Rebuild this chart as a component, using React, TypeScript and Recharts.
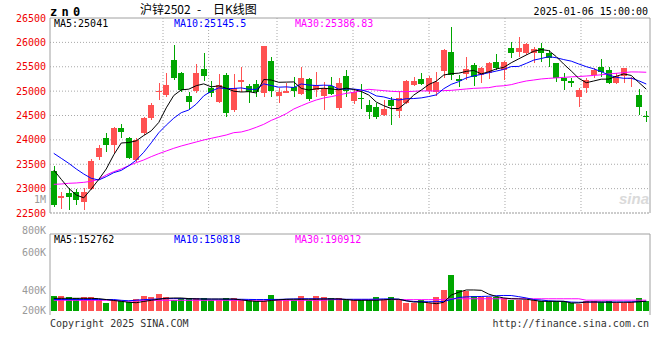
import React from 'react';
import { ComposedChart, Bar, Line, XAxis, YAxis, ReferenceLine, CartesianGrid } from 'recharts';

const MONO = '"DejaVu Sans Mono", "Liberation Mono", monospace';
const CJK = '"Noto Sans CJK SC", sans-serif';
const RED = '#ff5252';
const GREEN = '#00a600';
const GRID = '#a8a8a8';
const BORDER = '#a0a0a0';
const AXIS_RED = '#f00000';
const DATE_BLUE = '#0080cc';
const VOL_GREY = '#999999';

// ---------- data ----------
const dates = [
  '09-05','09-06','09-09','09-10','09-11','09-12','09-13','09-18','09-19','09-20',
  '09-23','09-24','09-25','09-26','09-27','09-30','10-08','10-09','10-10','10-11',
  '10-14','10-15','10-16','10-17','10-18','10-21','10-22','10-23','10-24','10-25',
  '10-28','10-29','10-30','10-31','11-01','11-04','11-05','11-06','11-07','11-08',
  '11-11','11-12','11-13','11-14','11-15','11-18','11-19','11-20','11-21','11-22',
  '11-25','11-26','11-27','11-28','11-29','12-02','12-03','12-04','12-05','12-06',
  '12-09','12-10','12-11','12-12','12-13','12-16','12-17','12-18','12-19','12-20',
  '12-23','12-24','12-25','12-26','12-27','12-30','12-31','01-02','01-03','01-06',
];

const open = [
  23369,22801,22904,22938,22733,23006,23642,24032,23895,24237,
  24032,23588,24134,24442,24975,24921,25639,25379,24900,24989,
  25447,25057,24784,25331,24613,25194,25105,25146,24969,25618,
  24900,24969,25092,24941,25249,25023,24900,25105,24661,25310,
  24798,24860,24716,24668,24510,24818,24579,24750,25126,25242,
  24989,24989,25420,25809,25242,25351,25536,25331,25365,25604,
  25433,25878,25789,25789,25775,25878,25775,25570,25262,25208,
  24887,25057,25331,25488,25433,25160,25297,25256,24921,24483,
];
const high = [
  23471,22938,23006,22986,23006,23601,23895,24134,24258,24326,
  24066,24032,24476,24750,25174,25379,25946,25390,24989,25557,
  25775,25208,25351,25365,25351,25488,25146,25228,25930,25707,
  25057,25174,25297,25488,25262,25399,25194,25297,25262,25433,
  25037,25140,24818,24764,24818,24887,25010,25228,25297,25365,
  25310,25399,25857,26322,25331,25693,25584,25502,25604,25761,
  25618,26001,26104,25994,25912,25994,25844,25584,25365,25262,
  25057,25262,25481,25652,25502,25379,25481,25297,25037,24599,
];
const low = [
  22630,22576,22562,22664,22562,22972,23587,23758,23724,24032,
  23601,23553,24100,24408,24818,24873,25228,24989,24627,24968,
  25215,24887,24750,24476,24579,24989,24750,24873,24873,24887,
  24764,24955,24887,24921,24805,24887,24613,24921,24613,24873,
  24736,24627,24435,24435,24497,24305,24442,24736,25112,25126,
  24941,24900,25262,25228,25092,25228,25105,25160,25242,25433,
  25228,25673,25707,25741,25570,25604,25502,25194,25023,25092,
  24668,24955,25262,25297,25146,25146,25174,25092,24510,24374,
];
const close = [
  22664,22849,22822,22781,22938,23574,23827,23895,24237,24148,
  23622,24000,24442,24716,25003,25126,25262,25023,24784,25365,
  25310,24955,25126,24545,25057,25228,24989,24989,25926,25010,
  24989,25010,25010,25262,24839,25126,25057,24941,25174,25010,
  24989,24846,24579,24456,24634,24695,24852,25208,25208,25146,
  25262,25194,25844,25344,25194,25447,25297,25481,25570,25481,
  25604,25775,25878,25967,25864,25775,25673,25262,25194,25160,
  25023,25228,25433,25379,25174,25310,25468,25276,24668,24476,
];
const ma5 = [
  23382,23191,23006,22870,22811,22993,23188,23403,23694,23936,
  23946,23980,24090,24186,24357,24657,24910,25026,25040,25112,
  25149,25087,25108,25060,24999,24982,24989,24962,25238,25228,
  25181,25185,25189,25056,25022,25049,25059,25045,25027,25062,
  25034,24992,24920,24776,24701,24642,24643,24769,24919,25022,
  25135,25204,25331,25358,25368,25405,25425,25353,25398,25455,
  25487,25582,25662,25741,25818,25852,25831,25708,25554,25413,
  25262,25173,25208,25245,25247,25305,25353,25321,25179,25041,
];
const ma10 = [
  23724,23622,23519,23403,23300,23211,23177,23246,23328,23374,
  23469,23584,23746,23940,24146,24302,24445,24558,24613,24734,
  24903,24999,25067,25050,25055,25066,25038,25035,25149,25114,
  25081,25087,25075,25147,25125,25115,25122,25117,25042,25042,
  25042,25025,24982,24902,24881,24838,24818,24844,24848,24861,
  24889,24923,25050,25139,25195,25270,25314,25342,25378,25411,
  25446,25504,25507,25569,25636,25669,25707,25685,25647,25615,
  25557,25502,25458,25399,25330,25284,25263,25265,25212,25146,
];
const ma30 = [
  23088,23095,23109,23116,23129,23150,23191,23280,23348,23403,
  23471,23533,23588,23656,23717,23772,23827,23875,23916,23957,
  23998,24032,24066,24100,24148,24162,24203,24258,24319,24400,
  24463,24538,24633,24700,24763,24818,24859,24887,24921,24955,
  24975,25010,25037,25023,25010,24996,24989,24989,24996,25005,
  25003,25003,25010,25016,25030,25044,25057,25064,25071,25100,
  25110,25133,25174,25208,25228,25250,25262,25272,25282,25293,
  25300,25310,25322,25335,25352,25365,25380,25394,25392,25387,
];
// volume, in thousands
const volumeK = [
  240,240,220,204,225,220,177,130,177,152,
  137,188,240,225,272,220,168,204,204,209,
  204,168,168,204,209,168,173,152,152,256,
  188,188,168,236,168,236,220,204,204,168,
  168,168,168,220,168,220,168,126,126,168,
  126,220,330,560,330,309,231,215,215,215,
  204,168,177,177,168,157,157,152,152,121,
  110,152,152,141,157,130,130,141,204,157,
];
const volMa5K = [
  199,199,199,199,199,199,194,180,165,152,
  137,130,150,168,185,200,204,204,195,190,
  188,188,188,188,188,175,160,152,152,165,
  175,184,184,184,184,184,188,190,190,180,
  168,168,168,168,176,184,184,160,141,141,
  130,115,137,250,295,330,330,325,265,228,
  205,193,190,185,168,152,152,152,152,126,
  126,141,141,141,137,137,137,137,145,153,
];
const volMa10K = [
  180,180,180,180,180,180,180,180,180,168,
  160,170,178,184,190,195,195,195,192,190,
  188,186,186,185,184,184,182,180,180,182,
  182,186,190,192,193,192,190,188,186,184,
  184,184,184,186,190,190,186,160,150,146,
  146,146,150,180,212,222,225,228,232,240,
  244,243,225,205,180,172,160,155,152,140,
  137,140,141,141,141,141,142,144,148,151,
];
const volMa30K = [
  168,168,168,168,168,168,168,168,168,160,
  155,158,168,168,168,168,168,168,168,168,
  168,168,168,168,168,168,168,168,168,168,
  168,168,168,168,168,168,168,178,178,178,
  178,178,178,178,178,178,178,178,178,178,
  178,178,178,192,192,192,192,192,192,192,
  192,192,192,192,192,192,192,192,192,192,
  192,170,170,170,170,170,170,170,170,170,
];

const priceTicks = [22500, 23000, 23500, 24000, 24500, 25000, 25500, 26000, 26500];
const priceGrid = [23000, 23500, 24000, 24500, 25000, 25500, 26000];
const dateLabelIdx = [2, 15, 21, 30, 40, 50, 60, 70, 79];
const mainGridIdx = [15, 21, 30, 40, 50, 60, 70];
const volGridIdx = [2, 15, 21, 30, 40, 50, 60, 70];
const volGridK = [251.2, 565.2, 879.2];
const volAxisLabels = ['1M', '800K', '600K', '400K', '200K'];
const volAxisLabelY = [199, 230, 252, 290.5, 310.5];

const mainLegend = [
  { text: 'MA5:25041', color: '#000000', x: 54 },
  { text: 'MA10:25145.5', color: '#0000ff', x: 174 },
  { text: 'MA30:25386.83', color: '#ff00ff', x: 295 },
];
const volLegend = [
  { text: 'MA5:152762', color: '#000000', x: 54 },
  { text: 'MA10:150818', color: '#0000ff', x: 174 },
  { text: 'MA30:190912', color: '#ff00ff', x: 295 },
];

const PRICE_DOMAIN: [number, number] = [22500, 26500];
const CANDLE_DOMAIN: [number, number] = [0, 80];
const DATE_DOMAIN: [number, number] = [0.13, 79.08];
const VOL_DOMAIN: [number, number] = [-62.8, 1208.9];
const dateTicks = [DATE_DOMAIN[0], ...dateLabelIdx.slice(1, -1), DATE_DOMAIN[1]];

const rows = dates.map((d, i) => ({
  i,
  x: i + 0.5,
  date: d,
  open: open[i],
  high: high[i],
  low: low[i],
  close: close[i],
  range: [low[i], high[i]],
  ma5: ma5[i],
  ma10: ma10[i],
  ma30: ma30[i],
  vol: volumeK[i],
  vma5: volMa5K[i],
  vma10: volMa10K[i],
  vma30: volMa30K[i],
}));

// ---------- shapes ----------
const Candle = (p: any) => {
  const { x, y, width, height, payload } = p;
  if (x == null || y == null || !payload) return null;
  const top = Math.min(y, y + height);
  const h = Math.abs(height);
  const span = payload.high - payload.low || 1;
  const py = (v: number) => top + ((payload.high - v) / span) * h;
  const yo = py(payload.open);
  const yc = py(payload.close);
  const color = payload.close >= payload.open ? RED : GREEN;
  const left = Math.floor(x);
  const w = Math.round(width);
  const cx = left + Math.floor(w / 2) + 0.5;
  const bTop = Math.round(Math.min(yo, yc));
  const bH = Math.max(1, Math.round(Math.abs(yo - yc)));
  return (
    <g>
      <line x1={cx} x2={cx} y1={Math.round(top)} y2={Math.round(top + h)} stroke={color} strokeWidth={1} />
      <rect x={left} y={bTop} width={w} height={bH} fill={color} />
    </g>
  );
};

const VolBar = (p: any) => {
  const { x, y, width, height, payload } = p;
  if (x == null || y == null || !payload) return null;
  const top = Math.round(Math.min(y, y + height));
  const bottom = Math.round(Math.max(y, y + height));
  return (
    <rect
      x={Math.floor(x)}
      y={top}
      width={Math.round(width)}
      height={Math.max(0, bottom - top)}
      fill={payload.close >= payload.open ? RED : GREEN}
    />
  );
};

const DateTick = (p: any) => {
  const { x, y, payload } = p;
  const v = payload.value;
  let anchor: 'start' | 'middle' | 'end' = 'middle';
  let label = dates[v];
  if (v === DATE_DOMAIN[0]) {
    anchor = 'start';
    label = dates[dateLabelIdx[0]];
  } else if (v === DATE_DOMAIN[1]) {
    anchor = 'end';
    label = dates[dateLabelIdx[dateLabelIdx.length - 1]];
  }
  return (
    <text x={x} y={y} dy="0.71em" textAnchor={anchor} fill={DATE_BLUE} fontFamily={MONO} fontSize={10}>
      {label}
    </text>
  );
};

const lineProps = { type: 'linear' as const, dot: false, activeDot: false, strokeWidth: 1, isAnimationActive: false };

export default function App() {
  return (
    <div style={{ position: 'absolute', left: 0, top: 0, width: 660, height: 360, background: '#ffffff', overflow: 'hidden' }}>
      {/* main K-line panel */}
      <div style={{ position: 'absolute', left: 0, top: 0 }}>
        <ComposedChart width={660} height={230} data={rows} margin={{ top: 18, right: 10, bottom: 3, left: 0 }}>
          <CartesianGrid
            xAxisId="d"
            yAxisId="p"
            verticalValues={mainGridIdx}
            horizontalValues={priceGrid}
            stroke={GRID}
            strokeDasharray="1 2"
          />
          <XAxis xAxisId="c" type="number" dataKey="x" domain={CANDLE_DOMAIN} allowDataOverflow hide tick={false} />
          <XAxis
            xAxisId="d"
            type="number"
            dataKey="i"
            domain={DATE_DOMAIN}
            allowDataOverflow
            ticks={dateTicks}
            interval={0}
            axisLine={false}
            tickLine={false}
            tickSize={0}
            tickMargin={5}
            height={14}
            tick={(props: any) => <DateTick {...props} />}
          />
          <YAxis
            yAxisId="p"
            domain={PRICE_DOMAIN}
            allowDataOverflow
            ticks={priceTicks}
            interval={0}
            width={50}
            axisLine={false}
            tickLine={false}
            tickSize={0}
            tickMargin={4}
            tick={{ fill: AXIS_RED, fontSize: 10, fontFamily: MONO }}
          />
          <ReferenceLine xAxisId="c" yAxisId="p" y={PRICE_DOMAIN[1]} stroke={BORDER} />
          <ReferenceLine xAxisId="c" yAxisId="p" y={PRICE_DOMAIN[0]} stroke="#999999" strokeDasharray="2 1" />
          <ReferenceLine xAxisId="c" yAxisId="p" x={CANDLE_DOMAIN[0]} stroke={BORDER} />
          <ReferenceLine xAxisId="c" yAxisId="p" x={CANDLE_DOMAIN[1]} stroke={BORDER} />
          <Bar xAxisId="c" yAxisId="p" dataKey="range" barSize={6} shape={Candle} isAnimationActive={false} />
          <Line xAxisId="c" yAxisId="p" dataKey="ma30" stroke="#ff00ff" {...lineProps} />
          <Line xAxisId="c" yAxisId="p" dataKey="ma10" stroke="#0000ff" {...lineProps} />
          <Line xAxisId="c" yAxisId="p" dataKey="ma5" stroke="#000000" {...lineProps} />
        </ComposedChart>
      </div>

      {/* volume panel */}
      <div style={{ position: 'absolute', left: 0, top: 220 }}>
        <ComposedChart width={660} height={120} data={rows} margin={{ top: 14, right: 10, bottom: 25, left: 50 }}>
          <CartesianGrid
            xAxisId="d"
            yAxisId="v"
            verticalValues={volGridIdx}
            horizontalValues={volGridK}
            stroke={GRID}
            strokeDasharray="1 2"
          />
          <XAxis xAxisId="c" type="number" dataKey="x" domain={CANDLE_DOMAIN} allowDataOverflow hide tick={false} />
          <XAxis xAxisId="d" type="number" dataKey="i" domain={DATE_DOMAIN} allowDataOverflow hide tick={false} />
          <YAxis yAxisId="v" domain={VOL_DOMAIN} allowDataOverflow hide tick={false} />
          <ReferenceLine xAxisId="c" yAxisId="v" y={VOL_DOMAIN[1]} stroke={BORDER} />
          <ReferenceLine xAxisId="c" yAxisId="v" x={CANDLE_DOMAIN[0]} stroke={BORDER} />
          <ReferenceLine xAxisId="c" yAxisId="v" x={CANDLE_DOMAIN[1]} stroke={BORDER} />
          <Bar xAxisId="c" yAxisId="v" dataKey="vol" barSize={6} shape={VolBar} isAnimationActive={false} />
          <Line xAxisId="c" yAxisId="v" dataKey="vma30" stroke="#ff00ff" {...lineProps} />
          <Line xAxisId="c" yAxisId="v" dataKey="vma10" stroke="#0000ff" {...lineProps} />
          <Line xAxisId="c" yAxisId="v" dataKey="vma5" stroke="#000000" {...lineProps} />
        </ComposedChart>
      </div>

      {/* texts */}
      <svg width={660} height={360} style={{ position: 'absolute', left: 0, top: 0, pointerEvents: 'none' }}>
        <text x={50} y={16} fontFamily={MONO} fontWeight="bold" fontSize={12} letterSpacing={4.3} fill="#000">zn0</text>
        <text y={14} fontFamily={CJK} fontSize={12} fill="#000">
          <tspan x={140}>沪锌2502</tspan>
          <tspan x={197}>-</tspan>
          <tspan x={213}>日K线图</tspan>
        </text>
        <text x={648} y={11.5} dominantBaseline="central" textAnchor="end" fontFamily={MONO} fontSize={10} fill="#000">
          2025-01-06 15:00:00
        </text>
        {mainLegend.map((l) => (
          <text key={l.text} x={l.x} y={23.7} dominantBaseline="central" fontFamily={MONO} fontSize={10} fill={l.color}>
            {l.text}
          </text>
        ))}
        {volLegend.map((l) => (
          <text key={l.text} x={l.x} y={239} dominantBaseline="central" fontFamily={MONO} fontSize={10} fill={l.color}>
            {l.text}
          </text>
        ))}
        {volAxisLabels.map((t, k) => (
          <text key={t} x={46} y={volAxisLabelY[k]} dominantBaseline="central" textAnchor="end" fontFamily={MONO} fontSize={10} fill={VOL_GREY}>
            {t}
          </text>
        ))}
        <text x={50} y={323.5} dominantBaseline="central" fontFamily={MONO} fontSize={10} fill="#333">
          Copyright 2025 SINA.COM
        </text>
        <text x={649} y={323.5} dominantBaseline="central" textAnchor="end" fontFamily={MONO} fontSize={10} fill="#333">
          http://finance.sina.com.cn
        </text>
        <text x={649} y={204} textAnchor="end" fontFamily='"Liberation Sans", sans-serif' fontStyle="italic" fontWeight="bold" fontSize={15} fill="#dadada">
          sina
        </text>
      </svg>
    </div>
  );
}
